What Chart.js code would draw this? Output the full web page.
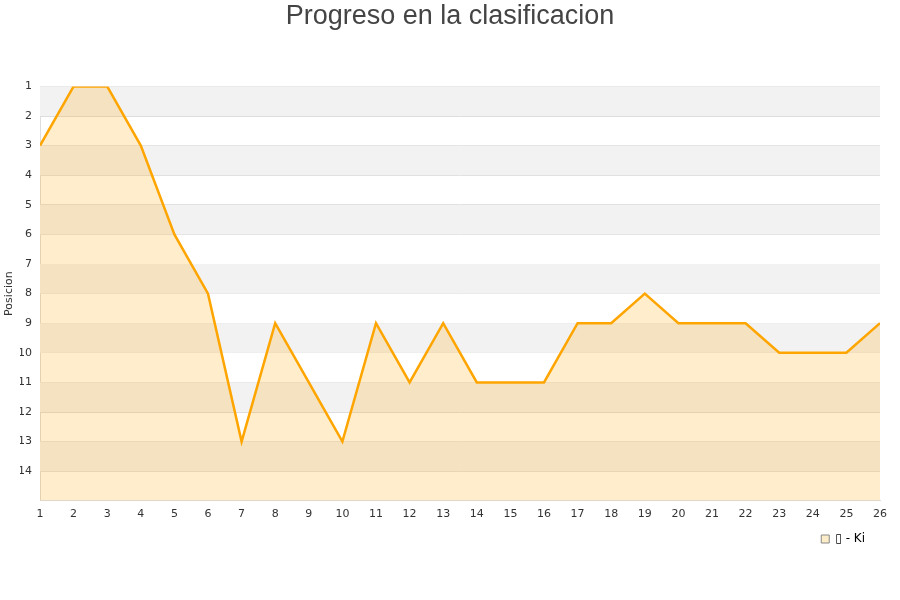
<!DOCTYPE html>
<html><head><meta charset="utf-8">
<script src="https://cdn.jsdelivr.net/npm/chart.js@4"></script>
<style>html,body{margin:0;padding:0;background:#fff}#wrap{width:900px;height:600px}</style>
</head><body><div id="wrap"><canvas id="c" width="900" height="600"></canvas></div>
<script>
const rounds = [1,2,3,4,5,6,7,8,9,10,11,12,13,14,15,16,17,18,19,20,21,22,23,24,25,26];
const positions = [3,1,1,3,6,8,13,9,11,13,9,11,9,11,11,11,9,9,8,9,9,9,10,10,10,9];
const seriesLabel = "\u25AF - Ki";
const titleText = "Progreso en la clasificacion";
const yTitle = "Posicion";

const bands = {
  id: 'bands',
  afterLayout(chart) {
    if (chart.legend) { chart.legend.left -= 10; chart.legend.right -= 10; }
  },
  beforeDatasetsDraw(chart) {
    const {ctx, chartArea: a, scales: {y}} = chart;
    ctx.save();
    for (let v = 1; v < 15; v += 2) {
      const p1 = y.getPixelForValue(v), p2 = y.getPixelForValue(v + 1);
      ctx.fillStyle = '#f2f2f2';
      ctx.fillRect(a.left, Math.min(p1, p2), a.right - a.left, Math.abs(p2 - p1));
    }
    ctx.restore();
  }
};

new Chart(document.getElementById('c'), {
  type: 'line',
  data: {
    datasets: [{
      label: seriesLabel,
      data: rounds.map((r, i) => ({x: r, y: positions[i]})),
      borderColor: '#ffa500',
      backgroundColor: 'rgba(255,165,0,0.2)',
      borderWidth: 2.5,
      pointRadius: 0,
      fill: 'start',
      tension: 0
    }]
  },
  options: {
    responsive: false,
    animation: false,
    layout: {padding: {top: 0, right: 20, bottom: 45, left: 20}},
    plugins: {
      title: {display: true, text: titleText, color: '#444', font: {family: 'Liberation Sans', size: 27, weight: 'normal'}, padding: {top: 0, bottom: 54}},
      legend: {position: 'bottom', align: 'end',
        labels: {boxWidth: 8, boxHeight: 8, color: '#000', font: {family: 'DejaVu Sans', size: 12}, padding: 5,
          generateLabels: (chart) => [{text: seriesLabel, fillStyle: '#fdecc8', strokeStyle: '#888', lineWidth: 1, datasetIndex: 0}]}},
      tooltip: {enabled: false}
    },
    scales: {
      x: {type: 'linear', min: 1, max: 26,
        ticks: {stepSize: 1, color: '#333', font: {family: 'DejaVu Sans', size: 11}, padding: 7},
        grid: {display: false, drawTicks: false},
        border: {color: '#ddd'}},
      y: {type: 'linear', reverse: true, min: 1, max: 15,
        afterFit: (s) => { s.width = 20; },
        ticks: {stepSize: 1, color: '#333', font: {family: 'DejaVu Sans', size: 11}, padding: 8,
          callback: (v) => v === 15 ? '' : v},
        title: {display: true, text: yTitle, color: '#333', font: {family: 'DejaVu Sans', size: 11}, padding: {top: -17, bottom: 0}},
        grid: {color: '#ddd', drawTicks: false},
        border: {color: '#ddd'}}
    }
  },
  plugins: [bands]
});
</script></body></html>
